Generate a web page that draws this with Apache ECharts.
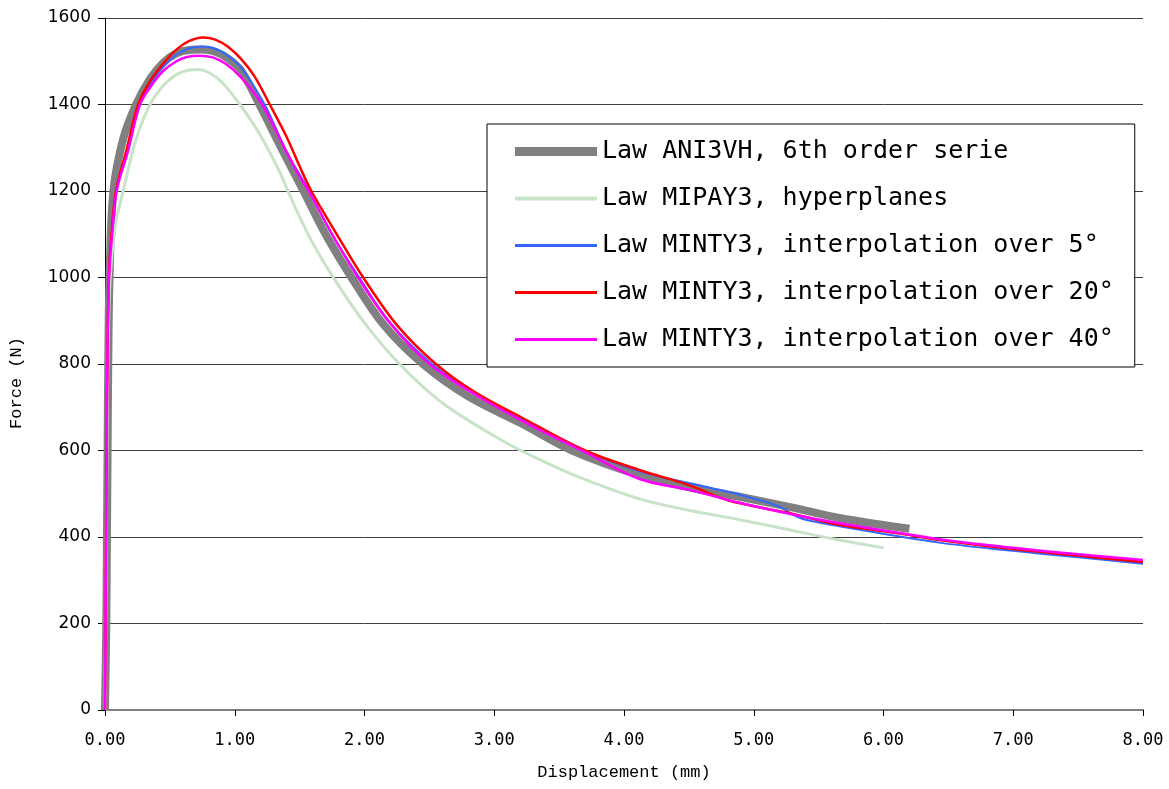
<!DOCTYPE html>
<html>
<head>
<meta charset="utf-8">
<script src="https://cdn.jsdelivr.net/npm/echarts@6/dist/echarts.min.js"></script>
<style>
  html, body { margin: 0; padding: 0; background: #fff; }
  #chart { width: 1169px; height: 789px; }
</style>
</head>
<body>
<div id="chart"></div>
<script>
// series names
var names = [
  "Law ANI3VH, 6th order serie",
  "Law MIPAY3, hyperplanes",
  "Law MINTY3, interpolation over 5°",
  "Law MINTY3, interpolation over 20°",
  "Law MINTY3, interpolation over 40°"
];

// Law ANI3VH (gray, thick)
var grayX = [0, 0.01, 0.015, 0.02, 0.025, 0.035, 0.065, 0.14, 0.24, 0.35, 0.45, 0.55, 0.65, 0.75, 0.85, 0.95, 1.05, 1.19, 1.35, 1.53, 1.7, 1.9, 2.15, 2.45, 2.8, 3.2, 3.6, 4.12, 4.5, 4.89, 5.3, 5.66, 6.2];
var grayF = [0, 200, 400, 600, 800, 1000, 1200, 1320, 1400, 1460, 1497, 1518, 1526, 1527, 1522, 1506, 1478, 1400, 1305, 1200, 1100, 1000, 890, 800, 725, 664, 600, 543, 515, 493, 468, 444, 419];

// Law MIPAY3 (light green)
var greenX = [0, 0.005, 0.01, 0.015, 0.022, 0.04, 0.08, 0.14, 0.24, 0.347, 0.45, 0.55, 0.65, 0.72, 0.8, 0.9, 1.04, 1.2, 1.35, 1.41, 1.5, 1.6, 1.76, 2.0, 2.27, 2.6, 3.05, 3.3, 3.6, 4.12, 4.5, 4.89, 5.3, 5.66, 6.0];
var greenF = [0, 200, 400, 600, 800, 1000, 1120, 1200, 1320, 1400, 1444, 1469, 1480, 1481, 1474, 1452, 1400, 1328, 1242, 1200, 1140, 1080, 1000, 895, 800, 710, 625, 586, 545, 488, 462, 440, 415, 393, 375];

// Law MINTY3 over 5 deg (blue)
var blueX = [0, 0.004, 0.008, 0.012, 0.018, 0.03, 0.05, 0.085, 0.17, 0.26, 0.35, 0.45, 0.55, 0.65, 0.745, 0.85, 0.95, 1.05, 1.23, 1.4, 1.5, 1.575, 1.75, 1.96, 2.2, 2.52, 2.85, 3.2, 3.7, 4.12, 4.63, 4.9, 5.2, 5.3, 5.4, 5.66, 6.43, 7.0, 7.5, 8.0];
var blueF = [0, 200, 400, 600, 800, 1000, 1100, 1200, 1295, 1400, 1450, 1488, 1515, 1530, 1534, 1529, 1512, 1485, 1400, 1290, 1238, 1200, 1100, 1000, 895, 800, 732, 674, 600, 552, 516, 497, 470, 452, 440, 425, 387, 368, 353, 338];

// Law MINTY3 over 20 deg (red)
var redX = [0, 0.004, 0.008, 0.012, 0.018, 0.03, 0.05, 0.085, 0.17, 0.256, 0.35, 0.45, 0.55, 0.65, 0.755, 0.85, 0.95, 1.05, 1.15, 1.27, 1.4, 1.5, 1.59, 1.8, 1.99, 2.25, 2.55, 2.85, 3.2, 3.7, 4.12, 4.5, 4.8, 5.28, 5.66, 6.15, 6.43, 7.0, 7.5, 8.0];
var redF = [0, 200, 400, 600, 800, 1000, 1100, 1200, 1300, 1400, 1455, 1495, 1527, 1547, 1555, 1550, 1533, 1505, 1466, 1400, 1325, 1257, 1200, 1093, 1000, 890, 800, 735, 678, 600, 555, 520, 485, 455, 428, 407, 393, 372, 357, 342];

// Law MINTY3 over 40 deg (magenta)
var pinkX = [0, 0.004, 0.008, 0.013, 0.018, 0.031, 0.055, 0.09, 0.18, 0.27, 0.36, 0.45, 0.55, 0.63, 0.73, 0.83, 0.93, 1.05, 1.21, 1.4, 1.5, 1.57, 1.75, 1.95, 2.2, 2.5, 2.85, 3.2, 3.7, 4.12, 4.505, 4.89, 5.3, 5.66, 6.43, 7.0, 7.5, 8.0];
var pinkF = [0, 200, 400, 600, 800, 1000, 1100, 1200, 1295, 1400, 1445, 1478, 1500, 1510, 1513, 1509, 1494, 1462, 1400, 1290, 1234, 1200, 1100, 1000, 893, 800, 730, 671, 596, 534, 509, 479, 452, 432, 395, 375, 360, 347];

var xTicks = [0, 1, 2, 3, 4, 5, 6, 7, 8];
var yTicks = [0, 200, 400, 600, 800, 1000, 1200, 1400, 1600];

function pairs(xs, ys) {
  return xs.map(function (x, i) { return [x, ys[i]]; });
}

var colors = ["#808080", "#c8e3c8", "#3366ff", "#ff0000", "#ff00ff"];
var widths = [8, 3, 2, 2.5, 2.5];
// legend line samples: band height per series
var legendIcons = [
  "path://M0 0H82V9H0Z",
  "path://M0 0H82V4H0Z",
  "path://M0 0H82V3H0Z",
  "path://M0 0H82V3H0Z",
  "path://M0 0H82V3H0Z"
];
var datas = [
  pairs(grayX, grayF),
  pairs(greenX, greenF),
  pairs(blueX, blueF),
  pairs(redX, redF),
  pairs(pinkX, pinkF)
];

var series = names.map(function (n, i) {
  return {
    name: n,
    type: "line",
    data: datas[i],
    showSymbol: false,
    symbol: "none",
    smooth: 0.35,
    color: colors[i],
    lineStyle: { color: colors[i], width: widths[i] },
    z: 2 + i
  };
});

var myChart = echarts.init(document.getElementById("chart"), null, { renderer: "canvas" });
var option = {
  animation: false,
  backgroundColor: "#fff",
  grid: { left: 104, right: 26, top: 18, bottom: 79, containLabel: false },
  legend: {
    orient: "vertical",
    left: 487,
    top: 124,
    padding: [15, 21, 15, 28],
    itemGap: 22,
    itemWidth: 82,
    itemHeight: 26,
    backgroundColor: "#fff",
    borderColor: "#000",
    borderWidth: 1,
    borderRadius: 0,
    data: names.map(function (n, i) {
      return { name: n, icon: legendIcons[i], itemStyle: { color: colors[i] } };
    }),
    textStyle: { fontFamily: "DejaVu Sans Mono", fontSize: 25, color: "#000" }
  },
  xAxis: {
    type: "value",
    min: 0,
    max: 8,
    interval: 1,
    name: "Displacement (mm)",
    nameLocation: "middle",
    nameGap: 54,
    nameTextStyle: { fontFamily: "Liberation Mono", fontSize: 17, color: "#000" },
    axisLine: { show: true, onZero: false, lineStyle: { color: "#808080", width: 2 } },
    axisTick: { show: true, inside: false, length: 6, lineStyle: { color: "#000" } },
    axisLabel: {
      margin: 22,
      fontFamily: "DejaVu Sans Mono",
      fontSize: 17,
      color: "#000",
      formatter: function (v) { return v.toFixed(2); }
    },
    splitLine: { show: false }
  },
  yAxis: {
    type: "value",
    min: 0,
    max: 1600,
    interval: 200,
    name: "Force (N)",
    nameLocation: "middle",
    nameGap: 80,
    nameTextStyle: { fontFamily: "Liberation Mono", fontSize: 17, color: "#000", padding: [0, 0, 0, -38] },
    axisLine: { show: true, lineStyle: { color: "#000", width: 1 } },
    axisTick: { show: true, inside: false, length: 7, lineStyle: { color: "#000" } },
    axisLabel: {
      margin: 14,
      fontFamily: "DejaVu Sans",
      fontSize: 17,
      color: "#000",
      formatter: function (v) { return String(v); }
    },
    splitLine: { show: true, lineStyle: { color: "#404040", width: 1 } }
  },
  series: series
};
myChart.setOption(option);
window.addEventListener("resize", myChart.resize);
</script>
</body>
</html>
